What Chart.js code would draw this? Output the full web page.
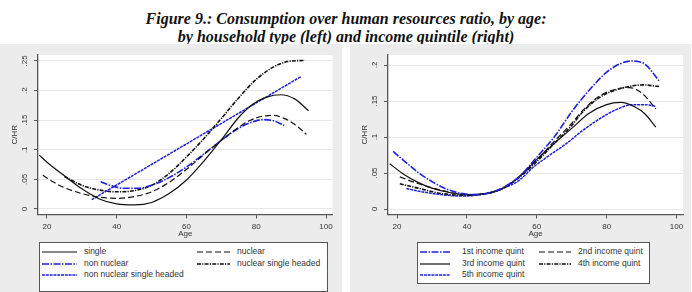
<!DOCTYPE html>
<html lang="en">
<head>
<meta charset="UTF-8">
<title>Figure 9 - C/HR by age</title>
<style>
    html, body { margin: 0; padding: 0; background: #fff; }
    body { width: 692px; height: 292px; position: relative; overflow: hidden; font-family: "Liberation Sans", Arial, sans-serif; }
    .title {
        position: absolute; left: 0; top: 10px; width: 692px; text-align: center;
        font-family: "Liberation Serif", serif; font-style: italic; font-weight: bold;
        font-size: 16px; line-height: 17.5px; color: #111;
    }
    .panel { position: absolute; top: 44px; height: 248px; background: #ececec; }
    .panel canvas { position: absolute; left: 0; top: 0; }
    .legend { position: absolute; background: #fff; border: 1px solid #555; box-sizing: border-box; }
    .item { position: absolute; height: 10px; }
    .item svg { position: absolute; left: 0; top: 0; }
    .item span { position: absolute; top: -1px; font-size: 8.5px; line-height: 10px; color: #333; white-space: nowrap; }
</style>
</head>
<body>
    <div class="title">Figure 9.: Consumption over human resources ratio, by age:<br>by household type (left) and income quintile (right)</div>

    <div class="panel" style="left:0; width:342px;">
        <canvas id="chartLeft" width="342" height="196"></canvas>
        <div class="legend" id="legendLeft" style="left:39px; top:198px; width:289px; height:50px;"></div>
    </div>
    <div class="panel" style="left:350px; width:341px;">
        <canvas id="chartRight" width="341" height="196"></canvas>
        <div class="legend" id="legendRight" style="left:67px; top:198px; width:233px; height:42px;"></div>
    </div>

<script src="https://cdn.jsdelivr.net/npm/chart.js"></script>
<script>
// ---- data: age (x) and C/HR (y) ----
// left: by household type
const ageSingle = [17.8, 20, 25, 30, 35, 40, 45, 50, 55, 60, 65, 70, 75, 79, 83, 87, 91, 95];
const chrSingle = [0.091, 0.079, 0.056, 0.034, 0.017, 0.0085, 0.0068, 0.011, 0.026, 0.049, 0.081, 0.117, 0.155, 0.177, 0.189, 0.193, 0.186, 0.166];

const ageNuclear = [18.8, 22, 25, 30, 35, 40, 45, 50, 55, 60, 65, 70, 74, 78, 82, 85, 88, 91, 94.4];
const chrNuclear = [0.057, 0.045, 0.036, 0.026, 0.020, 0.018, 0.021, 0.029, 0.045, 0.067, 0.092, 0.116, 0.134, 0.149, 0.157, 0.158, 0.153, 0.143, 0.126];

const ageNonNuclear = [35.4, 38, 42, 46, 50, 55, 60, 65, 70, 74, 78, 82, 85, 88];
const chrNonNuclear = [0.046, 0.040, 0.035, 0.035, 0.040, 0.053, 0.071, 0.093, 0.116, 0.133, 0.145, 0.151, 0.149, 0.141];

const ageNucSingle = [25, 30, 35, 40, 45, 50, 55, 60, 65, 70, 75, 80, 85, 89, 93.9];
const chrNucSingle = [0.055, 0.040, 0.032, 0.029, 0.031, 0.040, 0.060, 0.088, 0.119, 0.153, 0.188, 0.219, 0.240, 0.249, 0.251];

const ageNonNucSingle = [32.8, 92.8];
const chrNonNucSingle = [0.0157, 0.2236];

// right: by income quintile
const ageQ1 = [18.9, 22, 26, 30, 34, 38, 42, 46, 50, 55, 60, 65, 70, 75, 80, 84, 87, 91, 95];
const chrQ1 = [0.080, 0.067, 0.051, 0.038, 0.028, 0.022, 0.020, 0.022, 0.029, 0.045, 0.072, 0.100, 0.135, 0.165, 0.190, 0.202, 0.2055, 0.201, 0.178];

const ageQ2 = [20.8, 26, 32.7, 40, 45, 50, 55, 60, 65, 70, 73, 78, 82.7, 86.5, 90.3, 94.1];
const chrQ2 = [0.0446, 0.0354, 0.026, 0.020, 0.021, 0.028, 0.045, 0.068, 0.094, 0.119, 0.136, 0.157, 0.1664, 0.1687, 0.160, 0.139];

const ageQ3 = [17.9, 22, 26, 30, 35, 40, 45, 50, 55, 60, 65, 70, 75, 80, 84, 88, 91, 94.1];
const chrQ3 = [0.063, 0.048, 0.037, 0.029, 0.023, 0.020, 0.021, 0.028, 0.045, 0.069, 0.091, 0.112, 0.133, 0.145, 0.148, 0.142, 0.132, 0.1136];

const ageQ4 = [20.8, 26, 32.7, 40, 45, 50, 55, 60, 65, 70, 73, 78, 82.7, 87.4, 90.3, 95.2];
const chrQ4 = [0.035, 0.029, 0.0216, 0.019, 0.021, 0.028, 0.044, 0.066, 0.091, 0.116, 0.134, 0.155, 0.1655, 0.171, 0.1724, 0.170];

const ageQ5 = [22.7, 26, 32.7, 38.4, 42, 46, 50, 55, 59, 63.6, 68.4, 73.1, 77.9, 82.7, 87.4, 91.2, 94.1];
const chrQ5 = [0.0285, 0.025, 0.020, 0.018, 0.019, 0.022, 0.028, 0.040, 0.058, 0.0745, 0.0906, 0.109, 0.125, 0.138, 0.1448, 0.1448, 0.1425];

// tick labels
const xTicks = [20, 40, 60, 80, 100];
const yTicksLeft = [0, 0.05, 0.1, 0.15, 0.2, 0.25];
const yTicksRight = [0, 0.05, 0.1, 0.15, 0.2];

// ---- styles ----
const BLACK = '#111111', BLUE = '#2020dc';
const lineStyles = {
    solid:   { color: BLACK, dash: [], width: 1.2 },
    dash:    { color: BLACK, dash: [6, 3], width: 1.2 },
    dashDot: { color: BLUE, dash: [7, 1.5, 1.5, 1.5], width: 1.6 },
    dotDash: { color: BLACK, dash: [4, 1.2, 1.2, 1.2], width: 1.6 },
    dense:   { color: BLUE, dash: [3, 0.8], width: 1.5 }
};

const FONT = '"Liberation Sans", Arial, sans-serif';
const TEXT = '#333';
const AXIS = '#555';

function pts(ages, vals) {
    return ages.map((a, i) => ({ x: a, y: vals[i] }));
}

function fmtTick(v) {
    if (v === 0) return '0';
    return String(+v.toFixed(2)).replace(/^0/, '');
}

// white plot region on the grey graph region
const plotBg = {
    id: 'plotBg',
    beforeDraw(chart) {
        const a = chart.chartArea, c = chart.ctx;
        c.save();
        c.fillStyle = '#fff';
        c.fillRect(a.left, a.top, a.right - a.left, a.bottom - a.top);
        c.restore();
    }
};

function makeChart(canvasId, series, yTicks, yMin, yMax, padRight) {
    const datasets = series.map(s => {
        const st = lineStyles[s.style];
        return {
            label: s.label,
            data: pts(s.ages, s.vals),
            borderColor: st.color,
            borderDash: st.dash,
            borderWidth: st.width,
            pointRadius: 0,
            fill: false,
            cubicInterpolationMode: 'monotone'
        };
    });

    return new Chart(document.getElementById(canvasId), {
        type: 'line',
        data: { datasets: datasets },
        options: {
            responsive: false,
            animation: false,
            layout: { padding: { top: 11, right: padRight, bottom: 0, left: 0 } },
            plugins: { legend: { display: false }, tooltip: { enabled: false } },
            scales: {
                x: {
                    type: 'linear',
                    min: 17.42,
                    max: 101.86,
                    afterBuildTicks: s => { s.ticks = xTicks.map(v => ({ value: v })); },
                    afterFit: s => { s.height = 25.5; },
                    grid: { drawOnChartArea: false, tickLength: 4, tickColor: AXIS },
                    border: { color: AXIS, width: 1.3 },
                    ticks: { font: { family: FONT, size: 8 }, color: TEXT, padding: 3, maxRotation: 0 },
                    title: { display: true, text: 'Age', font: { family: FONT, size: 8 }, color: TEXT, padding: { top: 0, bottom: 1.2 } }
                },
                y: {
                    type: 'linear',
                    min: yMin,
                    max: yMax,
                    afterBuildTicks: s => { s.ticks = yTicks.map(v => ({ value: v })); },
                    afterFit: s => { s.width = 38; },
                    grid: { color: '#e8e8e8', tickLength: 4, tickColor: AXIS },
                    border: { color: AXIS, width: 1.3 },
                    ticks: {
                        font: { family: FONT, size: 8 }, color: TEXT, padding: 4,
                        minRotation: 90, maxRotation: 90, crossAlign: 'center',
                        callback: v => fmtTick(v)
                    },
                    title: { display: true, text: 'C/HR', font: { family: FONT, size: 8 }, color: TEXT, padding: { top: 9.7, bottom: 0 } }
                }
            }
        },
        plugins: [plotBg]
    });
}

function makeLegend(boxId, series, places) {
    const box = document.getElementById(boxId);
    series.forEach((s, i) => {
        const st = lineStyles[s.style];
        const p = places[i];
        const item = document.createElement('div');
        item.className = 'item';
        item.style.left = p.x + 'px';
        item.style.top = p.y + 'px';
        const svg = '<svg width="' + p.w + '" height="10"><line x1="0" y1="5" x2="' + p.w + '" y2="5" stroke="' + st.color +
            '" stroke-width="' + st.width + '" stroke-dasharray="' + (st.dash.length ? st.dash.join(' ') : 'none') + '"/></svg>';
        item.innerHTML = svg + '<span style="left:' + p.tx + 'px">' + s.label + '</span>';
        box.appendChild(item);
    });
}

const leftSeries = [
    { label: 'single', ages: ageSingle, vals: chrSingle, style: 'solid' },
    { label: 'nuclear', ages: ageNuclear, vals: chrNuclear, style: 'dash' },
    { label: 'non nuclear', ages: ageNonNuclear, vals: chrNonNuclear, style: 'dashDot' },
    { label: 'nuclear single headed', ages: ageNucSingle, vals: chrNucSingle, style: 'dotDash' },
    { label: 'non nuclear single headed', ages: ageNonNucSingle, vals: chrNonNucSingle, style: 'dense' }
];

const rightSeries = [
    { label: '1st income quint', ages: ageQ1, vals: chrQ1, style: 'dashDot' },
    { label: '2nd income quint', ages: ageQ2, vals: chrQ2, style: 'dash' },
    { label: '3rd income quint', ages: ageQ3, vals: chrQ3, style: 'solid' },
    { label: '4th income quint', ages: ageQ4, vals: chrQ4, style: 'dotDash' },
    { label: '5th income quint', ages: ageQ5, vals: chrQ5, style: 'dense' }
];

makeChart('chartLeft', leftSeries, yTicksLeft, -0.0093, 0.2601, 9.5);
makeChart('chartRight', rightSeries, yTicksRight, -0.0076, 0.2139, 8);

// legend places: rows at 10, 21.7, 33.4 px centre inside box
const rowTop = [4, 15.7, 27.4];
makeLegend('legendLeft', leftSeries, [
    { x: 2, y: rowTop[0], w: 35, tx: 42 },
    { x: 157, y: rowTop[0], w: 33, tx: 40 },
    { x: 2, y: rowTop[1], w: 35, tx: 42 },
    { x: 157, y: rowTop[1], w: 33, tx: 40 },
    { x: 2, y: rowTop[2], w: 35, tx: 42 }
]);
makeLegend('legendRight', rightSeries, [
    { x: 2, y: rowTop[0], w: 30, tx: 42 },
    { x: 121, y: rowTop[0], w: 32, tx: 39 },
    { x: 2, y: rowTop[1], w: 30, tx: 42 },
    { x: 121, y: rowTop[1], w: 32, tx: 39 },
    { x: 2, y: rowTop[2], w: 30, tx: 42 }
]);
</script>
</body>
</html>
